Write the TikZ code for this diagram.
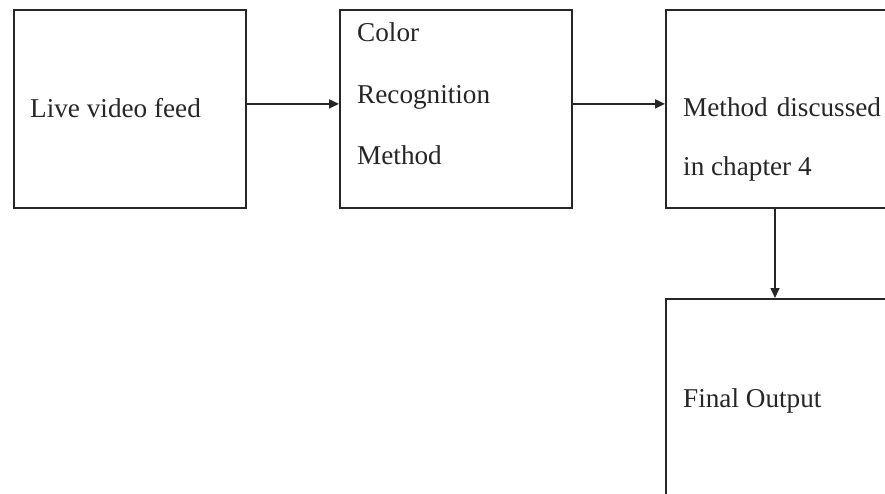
\documentclass[tikz,border=0pt]{standalone}
\usepackage{fontspec}
\setmainfont{Liberation Serif}
\usetikzlibrary{arrows.meta}
\begin{document}
\begin{tikzpicture}[x=1pt,y=-1pt,
  box/.style={draw=black!85,line width=1.8pt,rectangle,inner sep=0pt,anchor=north west},
  lbl/.style={anchor=base west,inner sep=0pt,text=black!85,font=\fontsize{27.2}{33}\selectfont},
  arr/.style={draw=black!85,line width=1.6pt,-{Triangle[length=10pt,width=9pt]}}]
\useasboundingbox[fill=white] (0,0) rectangle (885,494);
% the four process boxes (the right-hand ones run off the page)
\node[box,minimum width=232pt,minimum height=198pt] (feed) at (13,9) {};
\node[box,minimum width=232pt,minimum height=198pt] (color) at (339,9) {};
\node[box,minimum width=240pt,minimum height=198pt] (method) at (665,9) {};
\node[box,minimum width=240pt,minimum height=230pt] (output) at (665,298) {};
% box texts
\node[lbl] (t1) at (30,118) {Live video feed};
\node[lbl] (t2) at (357,42) {Color};
\node[lbl] (t3) at (357,104) {Recognition};
\node[lbl] (t4) at (357,165) {Method};
\node[lbl] (t5) at (683,117) {Method\hspace{9pt}discussed};
\node[lbl] (t6) at (683,176) {in chapter 4};
\node[lbl] (t7) at (683,407) {Final Output};
% connectors
\draw[arr] ([yshift=5pt]feed.east) -- ([yshift=5pt]color.west);
\draw[arr] ([yshift=5pt]color.east) -- ([yshift=5pt]method.west);
\draw[arr] ([xshift=110pt]method.south west) -- ([xshift=110pt]output.north west);
\end{tikzpicture}
\end{document}
